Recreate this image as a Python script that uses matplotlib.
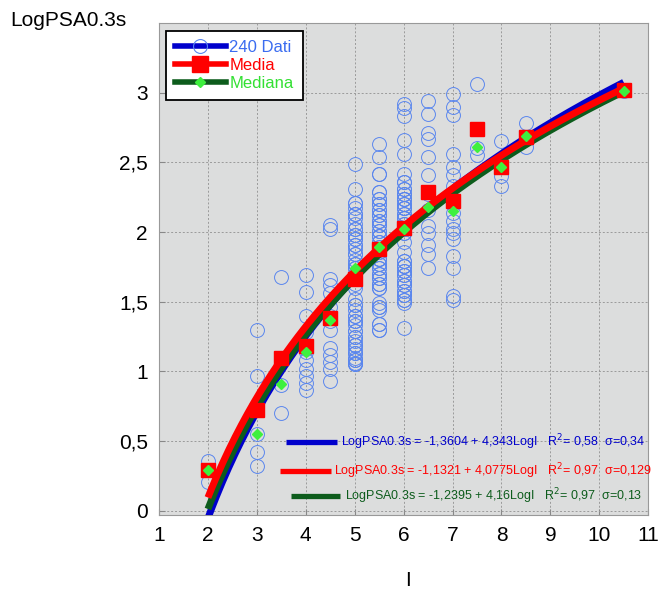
import numpy as np
import matplotlib
matplotlib.use("Agg")
import matplotlib.pyplot as plt
from matplotlib.lines import Line2D
from matplotlib.ticker import FuncFormatter

plt.rcParams['font.family'] = ['Liberation Sans', 'DejaVu Sans']

# intensity classes and the recorded LogPSA0.3s values in each class
I_levels = [2, 3, 3.5, 4, 4.5, 5, 5.5, 6, 6.5, 7, 7.5, 8, 8.5, 10.5]
psa_2 = [0.36, 0.29, 0.21]
psa_3 = [1.30, 0.97, 0.55, 0.42, 0.32]
psa_35 = [1.68, 0.90, 0.70]
psa_4 = [1.69, 1.57, 1.40, 1.28, 1.16, 1.14, 1.08, 1.02, 0.97, 0.92, 0.87]
psa_45 = [2.05, 2.02, 1.66, 1.62, 1.56, 1.46, 1.40, 1.36, 1.30, 1.17, 1.12,
          1.07, 1.02, 0.93]
psa_5 = [2.49, 2.31, 2.21, 2.21, 2.17, 2.13, 2.13, 2.10, 2.06, 2.02,
         2.02, 1.98, 1.95, 1.95, 1.91, 1.88, 1.84, 1.84, 1.80, 1.77,
         1.77, 1.74, 1.74, 1.70, 1.67, 1.67, 1.63, 1.60, 1.52, 1.48,
         1.48, 1.44, 1.40, 1.36, 1.36, 1.33, 1.29, 1.29, 1.25, 1.22,
         1.19, 1.19, 1.16, 1.13, 1.13, 1.10, 1.08, 1.08, 1.06, 1.05,
         1.05, 1.98, 1.91, 1.70, 1.40, 1.25]
psa_55 = [2.63, 2.54, 2.42, 2.29, 2.29, 2.24, 2.20, 2.20, 2.16, 2.12,
          2.12, 2.08, 2.05, 2.05, 2.01, 1.97, 1.97, 1.93, 1.89, 1.89,
          1.86, 1.81, 1.81, 1.77, 1.74, 1.74, 1.70, 1.67, 1.67, 1.63,
          1.60, 1.60, 1.49, 1.46, 1.44, 1.34, 1.30, 1.30, 2.16, 2.01,
          1.93, 1.77, 1.70, 1.63, 2.24, 2.08, 1.86, 1.46, 1.34, 2.42,
          1.97, 1.81]
psa_6 = [2.92, 2.89, 2.83, 2.66, 2.56, 2.42, 2.36, 2.31, 2.31, 2.27,
         2.24, 2.24, 2.20, 2.17, 2.17, 2.13, 2.10, 2.10, 2.06, 2.02,
         1.99, 1.99, 1.79, 1.76, 1.76, 1.72, 1.69, 1.69, 1.65, 1.62,
         1.62, 1.58, 1.55, 1.55, 1.51, 1.49, 1.31, 2.36, 2.27, 2.20,
         2.13, 2.06, 1.79, 1.72, 1.65, 1.58, 1.51, 2.02, 2.24, 2.10,
         1.93, 1.86, 2.17, 1.76]
psa_65 = [2.94, 2.85, 2.71, 2.67, 2.54, 2.41, 2.27, 2.16, 2.04, 1.99, 1.91,
          1.84, 1.74]
psa_7 = [2.99, 2.90, 2.84, 2.56, 2.47, 2.41, 2.33, 2.20, 2.14, 2.08, 2.02,
         1.99, 1.95, 1.83, 1.74, 1.54, 1.51]
psa_75 = [3.06, 2.60, 2.55]
psa_8 = [2.65, 2.50, 2.47, 2.40, 2.33]
psa_85 = [2.78, 2.68, 2.61]
psa_105 = [3.01]
psa_by_class = [psa_2, psa_3, psa_35, psa_4, psa_45, psa_5, psa_55, psa_6,
                psa_65, psa_7, psa_75, psa_8, psa_85, psa_105]

# class mean and median
media = [0.29, 0.72, 1.10, 1.18, 1.38, 1.66, 1.88, 2.03, 2.29, 2.22, 2.74,
         2.47, 2.68, 3.02]
mediana = [0.29, 0.55, 0.91, 1.14, 1.37, 1.74, 1.89, 2.02, 2.18, 2.15, 2.61,
           2.47, 2.69, 3.01]

# regressions LogPSA = a + b*LogI
fit_dati = (-1.3604, 4.343)
fit_media = (-1.1321, 4.0775)
fit_mediana = (-1.2395, 4.16)

eq_dati = "LogPSA0.3s = -1,3604 + 4,343LogI   R$^2$= 0,58  σ=0,34"
eq_media = "LogPSA0.3s = -1,1321 + 4,0775LogI   R$^2$= 0,97  σ=0,129"
eq_mediana = "LogPSA0.3s = -1,2395 + 4,16LogI   R$^2$= 0,97  σ=0,13"

c_dati = '#0000cc'
c_circ = '#5a86ee'
c_media = '#ff0000'
c_mediana = '#0d5c1c'
c_diam = '#3ef03e'

fig = plt.figure(figsize=(6.71, 6.01), dpi=100)
ax = fig.add_axes([0.237, 0.1431, 0.729, 0.8186])
ax.set_facecolor('#dcdddd')

xs = np.concatenate([[lv] * len(v) for lv, v in zip(I_levels, psa_by_class)])
ys = np.concatenate(psa_by_class)
n_dati = len(ys)
ax.plot(xs, ys, 'o', mfc='none', mec=c_circ, ms=10, mew=0.7, zorder=2)

Ic = np.linspace(2, 10.5, 200)
for (a, b), col in [(fit_dati, c_dati), (fit_mediana, c_mediana), (fit_media, c_media)]:
    ax.plot(Ic, a + b * np.log10(Ic), color=col, lw=5, solid_capstyle='butt', zorder=3)

ax.plot(I_levels, media, 's', color=c_media, ms=10, zorder=4, ls='none')
ax.plot(I_levels, mediana, 'D', color=c_diam, ms=5, zorder=5, ls='none')

# equations with their colour keys
for (x0, x1, xt, yy), col, txt in [((0.260, 0.364, 0.372, 0.148), c_dati, eq_dati),
                                   ((0.247, 0.352, 0.358, 0.089), c_media, eq_media),
                                   ((0.270, 0.370, 0.380, 0.039), c_mediana, eq_mediana)]:
    ax.plot([x0, x1], [yy, yy], color=col, lw=3.8, transform=ax.transAxes,
            solid_capstyle='butt', zorder=6)
    ax.text(xt, yy, txt, color=col, fontsize=9, va='center', ha='left',
            transform=ax.transAxes, zorder=6)

ax.set_xlim(1, 11)
ax.set_ylim(-0.03, 3.5)
ax.set_xticks(range(1, 12))
ax.set_yticks(np.arange(0, 3.01, 0.5))
ax.yaxis.set_major_formatter(FuncFormatter(lambda v, p: f"{v:g}".replace('.', ',')))
ax.grid(True, color='#9a9a9a', ls=(0, (2, 2)), lw=0.7)
ax.set_axisbelow(True)
ax.tick_params(labelsize=15, direction='in', length=4, color='#888888', pad=8)
for s in ax.spines.values():
    s.set_color('#999999')

fig.text(10 / 671, 1 - 20 / 601, "LogPSA0.3s", fontsize=15, ha='left', va='center')
fig.text(408 / 671, 1 - 580 / 601, "I", fontsize=15, ha='center', va='center')

handles = [
    Line2D([], [], color=c_dati, lw=4, marker='o', mfc='none', mec=c_circ, ms=10, mew=0.8),
    Line2D([], [], color=c_media, lw=4, marker='s', ms=12),
    Line2D([], [], color=c_mediana, lw=4, marker='D', mfc=c_diam, mec=c_diam, ms=5),
]
leg = ax.legend(handles, [f"{n_dati} Dati", "Media", "Mediana"],
                loc='upper left', bbox_to_anchor=(0.014, 0.984), borderaxespad=0,
                fontsize=12, handlelength=3.05, handletextpad=0.2, labelspacing=0.17,
                borderpad=0.55, fancybox=False, framealpha=1, edgecolor='black',
                labelcolor=['#3a6cf0', '#ff0000', '#33e033'])
leg.get_frame().set_linewidth(1.3)
leg.set_zorder(10)

fig.savefig('out.png', dpi=100)
